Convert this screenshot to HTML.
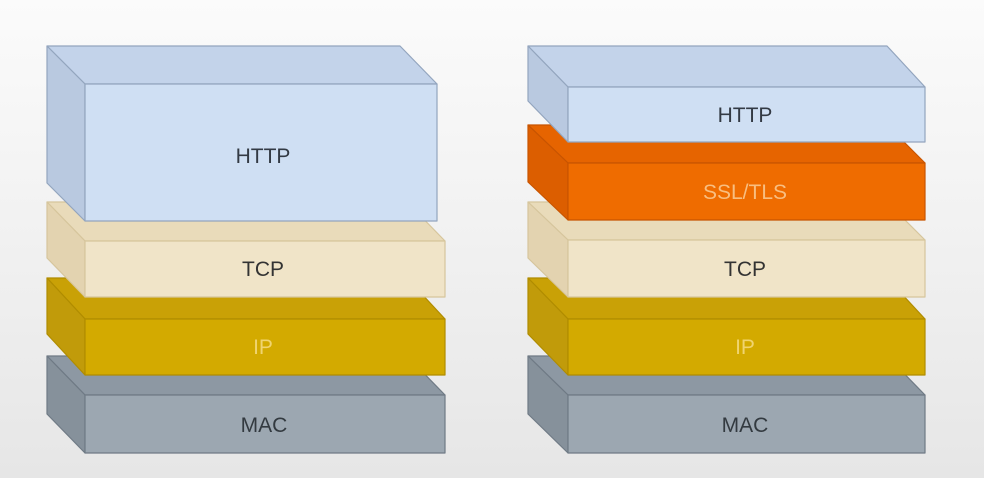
<!DOCTYPE html>
<html><head><meta charset="utf-8"><style>
html,body{margin:0;padding:0;}
body{width:984px;height:478px;overflow:hidden;background:linear-gradient(#fbfbfb,#f1f1f1 50%,#e6e6e6);}
svg{display:block;}
text{font-family:"Liberation Sans",sans-serif;font-size:21px;text-anchor:middle;}
</style></head><body>
<svg width="984" height="478" viewBox="0 0 984 478">
<g stroke-width="1.2" stroke-linejoin="round">
<!-- LEFT: MAC -->
<g stroke="#6f7a85">
<polygon points="47,356 407,356 445,395 85,395" fill="#8d98a3"/>
<polygon points="47,356 85,395 85,453 47,414" fill="#86919b"/>
<rect x="85" y="395" width="360" height="58" fill="#9ca7b1"/>
</g>
<!-- LEFT: IP -->
<g stroke="#b08c00">
<polygon points="47,278 407,278 445,319 85,319" fill="#c9a106"/>
<polygon points="47,278 85,319 85,375 47,334" fill="#c19b0a"/>
<rect x="85" y="319" width="360" height="56" fill="#d3aa00"/>
</g>
<!-- LEFT: TCP -->
<g stroke="#d6c59c">
<polygon points="47,202 407,202 445,241 85,241" fill="#e9dbba"/>
<polygon points="47,202 85,241 85,297 47,258" fill="#e3d3b0"/>
<rect x="85" y="241" width="360" height="56" fill="#f0e4c8"/>
</g>
<!-- LEFT: HTTP -->
<g stroke="#93a5be">
<polygon points="47,46 400,46 437,84 85,84" fill="#c3d3ea"/>
<polygon points="47,46 85,84 85,221 47,183" fill="#b9c9e0"/>
<rect x="85" y="84" width="352" height="137" fill="#cfdff3"/>
</g>
<!-- RIGHT: MAC -->
<g stroke="#6f7a85">
<polygon points="528,356 887,356 925,395 568,395" fill="#8d98a3"/>
<polygon points="528,356 568,395 568,453 528,414" fill="#86919b"/>
<rect x="568" y="395" width="357" height="58" fill="#9ca7b1"/>
</g>
<!-- RIGHT: IP -->
<g stroke="#b08c00">
<polygon points="528,278 887,278 925,319 568,319" fill="#c9a106"/>
<polygon points="528,278 568,319 568,375 528,334" fill="#c19b0a"/>
<rect x="568" y="319" width="357" height="56" fill="#d3aa00"/>
</g>
<!-- RIGHT: TCP -->
<g stroke="#d6c59c">
<polygon points="528,202 887,202 925,240 568,240" fill="#e9dbba"/>
<polygon points="528,202 568,240 568,297 528,258" fill="#e3d3b0"/>
<rect x="568" y="240" width="357" height="57" fill="#f0e4c8"/>
</g>
<!-- RIGHT: SSL -->
<g stroke="#c85400">
<polygon points="528,125 887,125 925,163 568,163" fill="#e66400"/>
<polygon points="528,125 568,163 568,220 528,182" fill="#dc5e00"/>
<rect x="568" y="163" width="357" height="57" fill="#ef6c00"/>
</g>
<!-- RIGHT: HTTP -->
<g stroke="#93a5be">
<polygon points="528,46 887,46 925,87 568,87" fill="#c3d3ea"/>
<polygon points="528,46 568,87 568,142 528,101" fill="#b9c9e0"/>
<rect x="568" y="87" width="357" height="55" fill="#cfdff3"/>
</g>
</g>
<text x="263" y="163" fill="#333a44">HTTP</text>
<text x="263" y="276" fill="#333">TCP</text>
<text x="263" y="354" fill="#f0d470">IP</text>
<text x="264" y="432" fill="#333a40">MAC</text>
<text x="745" y="122" fill="#333a44">HTTP</text>
<text x="745" y="199" fill="#f8be80">SSL/TLS</text>
<text x="745" y="276" fill="#333">TCP</text>
<text x="745" y="354" fill="#f0d470">IP</text>
<text x="745" y="432" fill="#333a40">MAC</text>
</svg>
</body></html>
